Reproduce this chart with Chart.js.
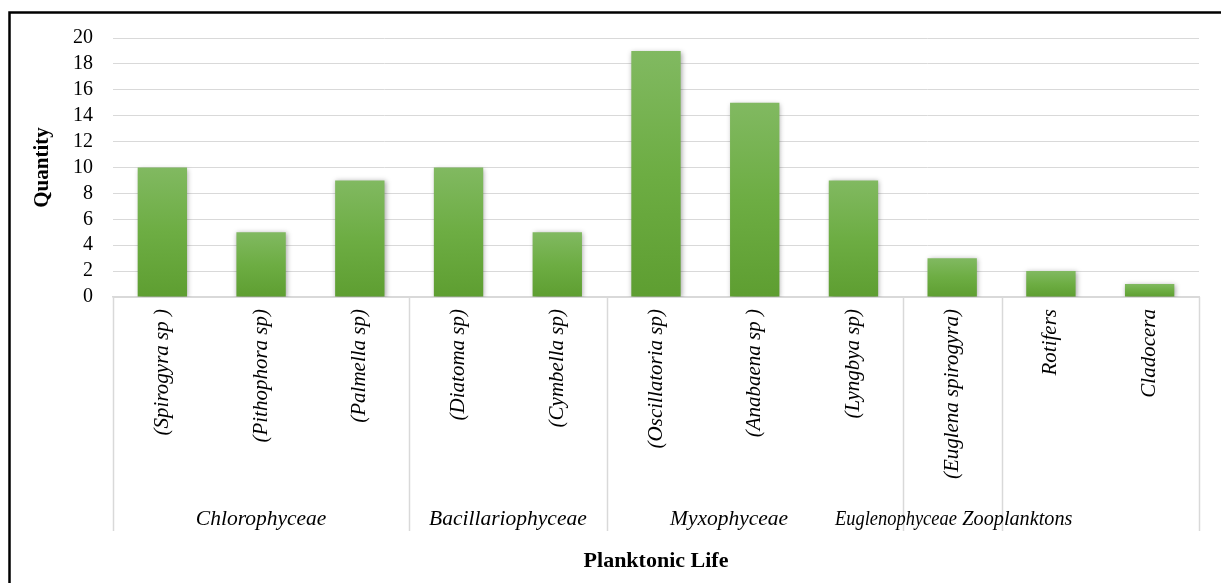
<!DOCTYPE html>
<html>
<head>
<meta charset="utf-8">
<title>Planktonic Life</title>
<script src="https://cdn.jsdelivr.net/npm/chart.js@4/dist/chart.umd.min.js"></script>
<style>
  html, body { margin: 0; padding: 0; background: #ffffff; }
  #wrap { width: 1221px; height: 583px; position: relative; }
</style>
</head>
<body>
<div id="wrap"><canvas id="chart" width="1221" height="583"></canvas></div>
<script>
// Species (inner axis level)
const species = [
  '(Spirogyra sp )', '(Pithophora sp)', '(Palmella sp)',
  '(Diatoma sp)', '(Cymbella sp)',
  '(Oscillatoria sp)', '(Anabaena sp )', '(Lyngbya sp)',
  '(Euglena spirogyra)',
  'Rotifers', 'Cladocera'
];
// Quantity observed per species
const quantity = [10, 5, 9, 10, 5, 19, 15, 9, 3, 2, 1];
// Outer axis level: group names and how many species each covers
const groupNames = ['Chlorophyceae', 'Bacillariophyceae', 'Myxophyceae', 'Euglenophyceae', 'Zooplanktons'];
const groupSizes = [3, 2, 3, 1, 2];
// Y axis ticks
const yTicks = [0, 2, 4, 6, 8, 10, 12, 14, 16, 18, 20];

const SERIF = "'Liberation Serif', 'Times New Roman', serif";

// Frame and white background
const framePlugin = {
  id: 'frame',
  beforeDraw(chart) {
    const { ctx, width, height } = chart;
    ctx.save();
    ctx.fillStyle = '#ffffff';
    ctx.fillRect(0, 0, width, height);
    ctx.strokeStyle = '#000000';
    ctx.lineWidth = 2.5;
    ctx.beginPath();
    ctx.moveTo(9.5, height);
    ctx.lineTo(9.5, 12.5);
    ctx.lineTo(width, 12.5);
    ctx.stroke();
    ctx.restore();
  }
};

// Soft shadow under the bars
const barShadow = {
  id: 'barShadow',
  beforeDatasetsDraw(chart) {
    const ctx = chart.ctx;
    ctx.save();
    ctx.shadowColor = 'rgba(0,0,0,0.35)';
    ctx.shadowBlur = 5;
    ctx.shadowOffsetX = 1;
    ctx.shadowOffsetY = 1;
  },
  afterDatasetsDraw(chart) {
    chart.ctx.restore();
  }
};

// Second level of the category axis: separators and group names
const groupAxis = {
  id: 'groupAxis',
  afterDraw(chart, args, opts) {
    const { ctx } = chart;
    const x = chart.scales.x;
    const area = chart.chartArea;
    const step = x.getPixelForValue(1) - x.getPixelForValue(0);
    const edge = (i) => x.getPixelForValue(0) + (i - 0.5) * step;
    ctx.save();
    ctx.strokeStyle = '#d9d9d9';
    ctx.lineWidth = 1.5;
    let start = 0;
    const bounds = [0];
    groupSizes.forEach(n => { start += n; bounds.push(start); });
    bounds.forEach(b => {
      const px = Math.round(edge(b)) + 0.5;
      ctx.beginPath();
      ctx.moveTo(px, area.bottom);
      ctx.lineTo(px, opts.lineEnd);
      ctx.stroke();
    });
    ctx.fillStyle = '#000000';
    ctx.font = 'italic 21.5px ' + SERIF;
    ctx.textAlign = 'center';
    ctx.textBaseline = 'middle';
    groupNames.forEach((name, g) => {
      const px = x.getPixelForValue(0) + opts.labelAt[g] * step;
      const mw = opts.maxWidth[g];
      if (mw) ctx.fillText(name, px, opts.labelY, mw);
      else ctx.fillText(name, px, opts.labelY);
    });
    ctx.restore();
  }
};

function barGradient(context) {
  const chart = context.chart;
  if (!chart.chartArea || !chart.scales.y) return '#6aab3f';
  const y = chart.scales.y;
  const top = y.getPixelForValue(context.raw);
  const base = y.getPixelForValue(0);
  const g = chart.ctx.createLinearGradient(0, top, 0, base);
  g.addColorStop(0, '#81b961');
  g.addColorStop(0.5, '#6dad43');
  g.addColorStop(1, '#5e9e31');
  return g;
}

new Chart(document.getElementById('chart'), {
  type: 'bar',
  data: {
    labels: species,
    datasets: [{
      label: 'Quantity',
      data: quantity,
      backgroundColor: barGradient,
      borderWidth: 0,
      categoryPercentage: 1.0,
      barPercentage: 0.5
    }]
  },
  options: {
    responsive: false,
    animation: false,
    devicePixelRatio: 1,
    layout: { padding: { top: 38, right: 22, left: 0, bottom: 0 } },
    plugins: {
      legend: { display: false },
      tooltip: { enabled: false },
      groupAxis: {
        lineEnd: 531,
        labelY: 519,
        labelAt: [1.0, 3.5, 5.74, 7.43, 8.66],
        maxWidth: [0, 0, 0, 122, 110]
      }
    },
    scales: {
      x: {
        afterFit(scale) { scale.height = 286; },
        grid: { display: false, drawTicks: false },
        border: { display: true, color: '#d9d9d9', width: 1.5 },
        ticks: {
          autoSkip: false,
          minRotation: 90,
          maxRotation: 90,
          padding: 12,
          color: '#000000',
          font: { family: SERIF, size: 21, style: 'italic' }
        },
        title: {
          display: true,
          text: 'Planktonic Life',
          color: '#000000',
          font: { family: SERIF, size: 22, weight: 'bold' },
          padding: { top: 0, bottom: 8 }
        }
      },
      y: {
        min: 0,
        max: 20,
        afterFit(scale) { scale.width = 113; },
        afterBuildTicks(scale) { scale.ticks = yTicks.map(v => ({ value: v })); },
        grid: { color: '#d9d9d9', lineWidth: 1, drawTicks: false },
        border: { display: false },
        ticks: {
          autoSkip: false,
          padding: 20,
          color: '#000000',
          font: { family: SERIF, size: 20 }
        },
        title: {
          display: true,
          text: 'Quantity',
          color: '#000000',
          font: { family: SERIF, size: 21, weight: 'bold' },
          padding: { top: 30, bottom: 0 }
        }
      }
    }
  },
  plugins: [framePlugin, barShadow, groupAxis]
});
</script>
</body>
</html>
